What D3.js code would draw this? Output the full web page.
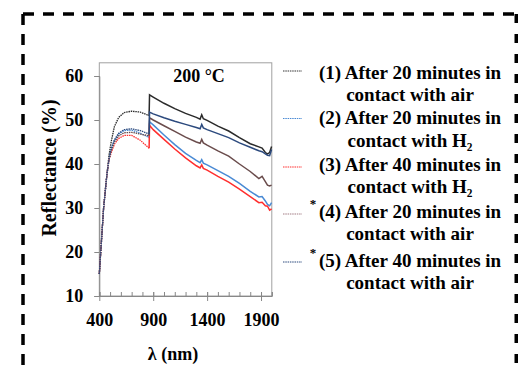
<!DOCTYPE html>
<html>
<head>
<meta charset="utf-8">
<script src="https://cdn.jsdelivr.net/npm/d3@7"></script>
<style>
  body { margin: 0; background: #fff; }
  svg { display: block; }
  text { font-family: "Liberation Serif", "Times New Roman", serif; font-weight: bold; fill: #000; }
</style>
</head>
<body>
<div id="chart"></div>
<script>
// shared wavelength grid (nm)
const wavelengths = [400, 440, 470, 490, 510, 540, 580, 630, 700, 780, 862, 866, 900, 1000, 1100, 1200, 1300, 1335, 1350, 1365, 1400, 1500, 1600, 1700, 1800, 1880, 1910, 1940, 1960, 1980, 1998];

// reflectance (%) per series
const series1 = [15, 30, 37.5, 42, 45, 48.5, 50.6, 51.7, 52.0, 51.8, 51.0, 55.7, 55.2, 53.8, 52.6, 51.5, 50.6, 50.2, 51.2, 50.3, 49.9, 48.6, 47.5, 46.0, 44.6, 43.9, 43.6, 42.6, 42.3, 42.6, 44.0];
const series2 = [15, 30, 37.5, 41, 43.3, 45.3, 46.8, 47.6, 47.7, 47.0, 46.0, 49.6, 48.9, 46.6, 44.4, 42.4, 40.8, 40.3, 41.0, 40.2, 39.8, 38.5, 37.2, 35.6, 33.8, 32.5, 32.6, 31.6, 30.8, 30.5, 31.2];
const series3 = [15, 30, 37.5, 41, 42.5, 44.5, 45.8, 46.5, 46.5, 45.4, 43.6, 48.8, 47.8, 45.6, 43.4, 41.4, 39.6, 39.1, 39.8, 39.0, 38.6, 37.2, 35.9, 34.3, 32.6, 31.2, 31.3, 30.5, 30.4, 29.5, 29.8];
const series4 = [15, 30, 37.5, 41, 43.0, 45.0, 46.4, 47.1, 47.2, 46.8, 46.4, 50.5, 50.0, 48.7, 47.4, 46.1, 45.0, 44.7, 45.6, 44.8, 44.3, 43.0, 41.8, 40.0, 38.3, 36.7, 37.2, 36.0, 35.2, 35.0, 35.2];
const series5 = [15, 30, 37.5, 41, 43.5, 45.5, 47.0, 47.8, 48.0, 47.6, 46.8, 51.8, 51.4, 50.5, 49.7, 49.0, 48.3, 48.0, 49.0, 48.2, 47.8, 46.9, 46.0, 44.8, 43.8, 43.0, 42.8, 42.3, 42.0, 41.9, 43.3];

const jumpAt = 862; // detector change

const legendLines = [
  ["(1) After 20 minutes in", "contact with air"],
  ["(2) After 20 minutes in", "contact with H₂"],
  ["(3) After 40 minutes in", "contact with H₂"],
  ["(4) After 20 minutes in", "contact with air"],
  ["(5) After 40 minutes in", "contact with air"]
];
const starred = [false, false, false, true, true];

const yTicks = [10, 20, 30, 40, 50, 60];
const xTicks = [400, 900, 1400, 1900];

const colors = ["#2a2a2a", "#4a8ad4", "#ff2e2e", "#6a4c4c", "#2c4a7e"];
const legendColors = ["#333", "#4a8ad4", "#ff2e2e", "#a27c84", "#2c4a7e"];

const allSeries = [series1, series2, series3, series4, series5];

const width = 518, height = 367;

const svg = d3.select("#chart").append("svg")
  .attr("width", width)
  .attr("height", height);

// dashed outer box
const dash = "11,9";
svg.append("line").attr("x1", 23).attr("y1", 14).attr("x2", 517).attr("y2", 14)
  .attr("stroke", "#000").attr("stroke-width", 3.5).attr("stroke-dasharray", dash);
svg.append("line").attr("x1", 23).attr("y1", 14).attr("x2", 23).attr("y2", 367)
  .attr("stroke", "#000").attr("stroke-width", 3.5).attr("stroke-dasharray", dash);
svg.append("line").attr("x1", 516.5).attr("y1", 14).attr("x2", 516.5).attr("y2", 367)
  .attr("stroke", "#000").attr("stroke-width", 4).attr("stroke-dasharray", "9,11");

const x = d3.scaleLinear().domain([400, 2000]).range([99.3, 271.8]);
const y = d3.scaleLinear().domain([10, 60]).range([296, 76]);

// plot frame
svg.append("rect")
  .attr("x", x(400)).attr("y", y(63))
  .attr("width", x(2000) - x(400)).attr("height", y(10) - y(63))
  .attr("fill", "none").attr("stroke", "#a0a0a0").attr("stroke-width", 1);

// y axis
const yAxis = svg.append("g")
  .attr("transform", "translate(" + x(400) + ",0)")
  .call(d3.axisLeft(y).tickValues(yTicks).tickSize(5).tickPadding(11));
yAxis.select(".domain").attr("stroke", "#888");
yAxis.selectAll(".tick line").attr("stroke", "#888");
yAxis.selectAll("text").attr("font-size", 18).attr("font-family", null);

// x axis: minor ticks pointing up, major ticks crossing
const xMinor = svg.append("g")
  .attr("transform", "translate(0," + y(10) + ")")
  .call(d3.axisBottom(x).tickValues(d3.range(400, 2001, 100)).tickSize(-4).tickFormat(""));
xMinor.select(".domain").attr("stroke", "#888");
xMinor.selectAll(".tick line").attr("stroke", "#888");

const xAxis = svg.append("g")
  .attr("transform", "translate(0," + y(10) + ")")
  .call(d3.axisBottom(x).tickValues(xTicks).tickFormat(d3.format("d")).tickSize(5).tickPadding(12));
xAxis.select(".domain").remove();
xAxis.selectAll(".tick line").attr("stroke", "#888").attr("y1", -4);
xAxis.selectAll("text").attr("font-size", 18).attr("font-family", null);

// curves
const line = d3.line()
  .x(d => x(d[0]))
  .y(d => y(d[1]));

allSeries.forEach((vals, i) => {
  const pts = wavelengths.map((w, k) => [w, vals[k]]);
  // before the detector change: dotted
  svg.append("path")
    .datum(pts.filter(p => p[0] <= jumpAt))
    .attr("d", line)
    .attr("fill", "none")
    .attr("stroke", colors[i])
    .attr("stroke-width", 1.3)
    .attr("stroke-dasharray", "1.5,0.8");
  // after
  svg.append("path")
    .datum(pts.filter(p => p[0] >= jumpAt))
    .attr("d", line)
    .attr("fill", "none")
    .attr("stroke", colors[i])
    .attr("stroke-width", 1.5);
});

// temperature label
svg.append("text")
  .attr("x", 199).attr("y", 82)
  .attr("text-anchor", "middle")
  .attr("font-size", 18)
  .text("200 °C");

// axis titles
svg.append("text")
  .attr("transform", "translate(56,168) rotate(-90)")
  .attr("text-anchor", "middle")
  .attr("font-size", 20)
  .text("Reflectance (%)");

svg.append("text")
  .attr("x", 173).attr("y", 360)
  .attr("text-anchor", "middle")
  .attr("font-size", 18)
  .text("λ (nm)");

// legend
const rowTop = [79, 124, 171, 218, 267];
const rowBottom = [101, 147, 193, 240, 289];
const sampleY = [71, 118.5, 167, 214, 262];

legendLines.forEach((lines, i) => {
  svg.append("line")
    .attr("x1", 283).attr("x2", 302)
    .attr("y1", sampleY[i]).attr("y2", sampleY[i])
    .attr("stroke", legendColors[i])
    .attr("stroke-width", 1.2)
    .attr("stroke-dasharray", "1.5,0.8");
  svg.append("text")
    .attr("x", 410).attr("y", rowTop[i])
    .attr("text-anchor", "middle")
    .attr("font-size", 19)
    .text(lines[0]);
  svg.append("text")
    .attr("x", 410).attr("y", rowBottom[i])
    .attr("text-anchor", "middle")
    .attr("font-size", 19)
    .text(lines[1]);
  if (starred[i]) {
    svg.append("text")
      .attr("x", 313).attr("y", rowTop[i] - 10)
      .attr("text-anchor", "middle")
      .attr("font-size", 13)
      .attr("font-weight", "normal")
      .text("*");
  }
});
</script>
</body>
</html>
